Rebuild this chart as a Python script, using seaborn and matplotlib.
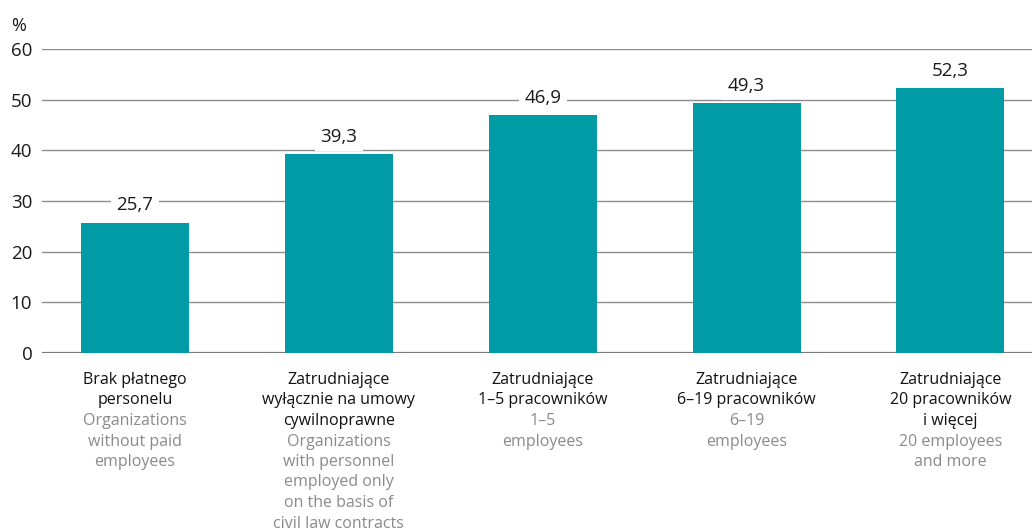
import matplotlib
matplotlib.use("Agg")
import matplotlib.pyplot as plt
import seaborn as sns
import pandas as pd

categories_pl = [
    "Brak płatnego\npersonelu",
    "Zatrudniające\nwyłącznie na umowy\ncywilnoprawne",
    "Zatrudniające\n1–5 pracowników",
    "Zatrudniające\n6–19 pracowników",
    "Zatrudniające\n20 pracowników\ni więcej",
]
categories_en = [
    "Organizations\nwithout paid\nemployees",
    "Organizations\nwith personnel\nemployed only\non the basis of\ncivil law contracts",
    "1–5\nemployees",
    "6–19\nemployees",
    "20 employees\nand more",
]
values = [25.7, 39.3, 46.9, 49.3, 52.3]
y_ticks = [0, 10, 20, 30, 40, 50, 60]

BAR = "#009ba5"
FONT = ["Open Sans", "DejaVu Sans"]

sns.set_theme(style="white")
plt.rcParams["font.family"] = FONT

df = pd.DataFrame({"cat": [str(i) for i in range(len(values))], "val": values})

fig = plt.figure(figsize=(10.32, 5.32), dpi=100)
ax = fig.add_axes([42 / 1032, (532 - 353) / 532, 1 - 42 / 1032, (353 - 49) / 532])

sns.barplot(data=df, x="cat", y="val", color=BAR, saturation=1, width=0.53,
            linewidth=0, edgecolor="none", ax=ax, zorder=2)

ax.set_ylim(0, 60)
ax.set_xlim(-0.456, 4.40)
ax.set_yticks(y_ticks)
ax.set_yticklabels([str(t) for t in y_ticks], fontsize=13.5, color="#1a1a1a")
ax.tick_params(axis="y", length=0, pad=7)
ax.set_xticks([])
ax.set_xlabel("")
ax.set_ylabel("")
for s in ax.spines.values():
    s.set_visible(False)

for t in y_ticks:
    ax.axhline(t, color="#8c8c8c" if t else "#7a7a7a", lw=1.0 if t else 1.6, zorder=1)

ax.text(-0.031, 1.075, "%", transform=ax.transAxes, ha="left", va="center",
        fontsize=13, color="#1a1a1a")

for i, v in enumerate(values):
    ax.annotate(f"{v:.1f}".replace(".", ","), (i, v), xytext=(0, 12.5), textcoords="offset points",
                ha="center", va="center", fontsize=13.5, color="#1a1a1a", zorder=3,
                bbox=dict(boxstyle="square,pad=0.3", fc="white", ec="none"))

# category labels: Polish lines in black, English lines in grey, fixed line pitch
pitch = 20.5 * 0.72  # points
first = 27 * 0.72
for i, (pl, en) in enumerate(zip(categories_pl, categories_en)):
    lines = [(s, "#111111") for s in pl.split("\n")] + [(s, "#8a8a8a") for s in en.split("\n")]
    for k, (s, c) in enumerate(lines):
        ax.annotate(s, (i, 0), xycoords=("data", "axes fraction"),
                    xytext=(0, -first - k * pitch), textcoords="offset points",
                    ha="center", va="center", fontsize=11.5, color=c, annotation_clip=False)

fig.savefig("out.png", dpi=100, facecolor="white")
